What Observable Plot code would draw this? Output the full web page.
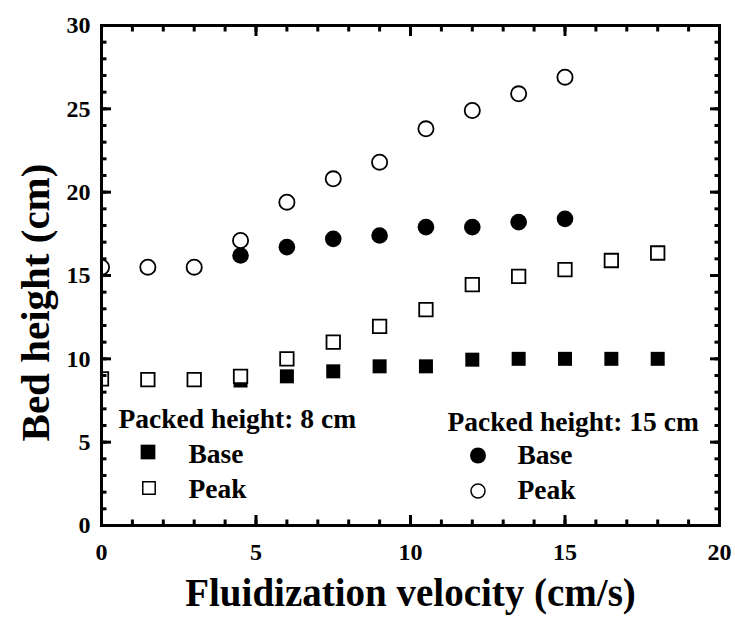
<!DOCTYPE html>
<html>
<head>
<meta charset="utf-8">
<script src="https://cdn.jsdelivr.net/npm/d3@7"></script>
<script src="https://cdn.jsdelivr.net/npm/@observablehq/plot@0.6"></script>
<style>
  html, body { margin: 0; padding: 0; background: #fff; }
</style>
</head>
<body>
<div id="chart"></div>
<script>
// ---- data ----
const velocity15 = [0, 1.5, 3, 4.5, 6, 7.5, 9, 10.5, 12, 13.5, 15];
const peak15 = [15.5, 15.5, 15.5, 17.1, 19.4, 20.8, 21.8, 23.8, 24.9, 25.9, 26.9];
const velocityBase15 = [4.5, 6, 7.5, 9, 10.5, 12, 13.5, 15];
const base15 = [16.2, 16.7, 17.2, 17.4, 17.9, 17.9, 18.2, 18.4];

const velocity8 = [0, 1.5, 3, 4.5, 6, 7.5, 9, 10.5, 12, 13.5, 15, 16.5, 18];
const peak8 = [8.8, 8.75, 8.75, 8.95, 10.0, 11.0, 11.95, 12.95, 14.45, 14.95, 15.35, 15.9, 16.35];
const velocityBase8 = [4.5, 6, 7.5, 9, 10.5, 12, 13.5, 15, 16.5, 18];
const base8 = [8.7, 8.95, 9.25, 9.55, 9.55, 9.95, 10.0, 10.0, 10.0, 10.0];

const xDomain = [0, 20];
const yDomain = [0, 30];
const xMajorTicks = [0, 5, 10, 15, 20];
const yMajorTicks = [0, 5, 10, 15, 20, 25, 30];
const xMinorTicks = [0, 1, 2, 3, 4, 5, 6, 7, 8, 9, 10, 11, 12, 13, 14, 15, 16, 17, 18, 19, 20];
const yMinorTicks = [0, 1, 2, 3, 4, 5, 6, 7, 8, 9, 10, 11, 12, 13, 14, 15, 16, 17, 18, 19, 20, 21, 22, 23, 24, 25, 26, 27, 28, 29, 30];

const xTitle = "Fluidization velocity (cm/s)";
const yTitle = "Bed height (cm)";
const legend8Title = "Packed height: 8 cm";
const legend15Title = "Packed height: 15 cm";
const legendLabels = ["Base", "Peak"];

const toRows = (xs, ys) => xs.map((x, i) => ({x, y: ys[i]}));

// ---- layout ----
const W = 735, H = 624;
const mL = 101, mR = 16, mT = 25, mB = 99;
const serif = "Liberation Serif, Times New Roman, serif";
const tickFont = 24, legendFont = 27.5;
const major = 10, minor = 5.5, tw = 3;

// inward tick marks drawn with the library's own axis marks, shifted inside the frame
const ticksX = (ticks, len) => [
  Plot.axisX(ticks, {anchor: "bottom", tickSize: len, dy: -len, text: null, label: null, stroke: "#000", strokeWidth: tw}),
  Plot.axisX(ticks, {anchor: "top", tickSize: len, dy: len, text: null, label: null, stroke: "#000", strokeWidth: tw}),
];
const ticksY = (ticks, len) => [
  Plot.axisY(ticks, {anchor: "left", tickSize: len, dx: len, text: null, label: null, stroke: "#000", strokeWidth: tw}),
  Plot.axisY(ticks, {anchor: "right", tickSize: len, dx: -len, text: null, label: null, stroke: "#000", strokeWidth: tw}),
];
const legText = (t, dx, dy) => Plot.text([t], {frameAnchor: "bottom-left", dx, dy, textAnchor: "start", lineAnchor: "bottom", fontSize: legendFont, fontWeight: "bold", fontFamily: serif, fill: "#000", text: d => d});

const chart = Plot.plot({
  width: W,
  height: H,
  marginLeft: mL,
  marginRight: mR,
  marginTop: mT,
  marginBottom: mB,
  x: {domain: xDomain},
  y: {domain: yDomain},
  marks: [
    // data
    Plot.dot(toRows(velocityBase8, base8), {x: "x", y: "y", symbol: "square", r: 7.9, fill: "#000", stroke: "none", clip: true}),
    Plot.dot(toRows(velocityBase15, base15), {x: "x", y: "y", symbol: "circle", r: 8.3, fill: "#000", stroke: "none", clip: true}),
    Plot.dot(toRows(velocity8, peak8), {x: "x", y: "y", symbol: "square", r: 7.6, fill: "#fff", stroke: "#000", strokeWidth: 1.8, clip: true}),
    Plot.dot(toRows(velocity15, peak15), {x: "x", y: "y", symbol: "circle", r: 7.6, fill: "#fff", stroke: "#000", strokeWidth: 1.8, clip: true}),

    // inward ticks on all four sides
    ...ticksX(xMinorTicks, minor),
    ...ticksX(xMajorTicks, major),
    ...ticksY(yMinorTicks, minor),
    ...ticksY(yMajorTicks, major),

    // tick labels
    Plot.axisX(xMajorTicks, {anchor: "bottom", tickSize: 0, tickPadding: 17, fontSize: tickFont, fontWeight: "bold", fontFamily: serif, fill: "#000", label: null}),
    Plot.axisY(yMajorTicks, {anchor: "left", tickSize: 0, tickPadding: 11, fontSize: tickFont, fontWeight: "bold", fontFamily: serif, fill: "#000", label: null}),

    Plot.frame({stroke: "#000", strokeWidth: 3}),

    // axis titles
    Plot.text([xTitle], {frameAnchor: "bottom", dy: 80, textAnchor: "middle", lineAnchor: "bottom", fontSize: 39, fontWeight: "bold", fontFamily: serif, fill: "#000", text: d => d}),
    Plot.text([yTitle], {frameAnchor: "left", dx: -66, dy: 27, rotate: -90, textAnchor: "middle", lineAnchor: "middle", fontSize: 41, fontWeight: "bold", fontFamily: serif, fill: "#000", text: d => d}),

    // legend: packed 8 cm
    legText(legend8Title, 17, -98),
    Plot.dot([0], {frameAnchor: "bottom-left", dx: 46.5, dy: -73.5, symbol: "square", r: 8.3, fill: "#000"}),
    legText(legendLabels[0], 87, -63),
    Plot.dot([0], {frameAnchor: "bottom-left", dx: 47.5, dy: -37.5, symbol: "square", r: 7, fill: "#fff", stroke: "#000", strokeWidth: 1.5}),
    legText(legendLabels[1], 87, -28),

    // legend: packed 15 cm
    legText(legend15Title, 346, -95),
    Plot.dot([0], {frameAnchor: "bottom-left", dx: 376.5, dy: -70, symbol: "circle", r: 8, fill: "#000"}),
    legText(legendLabels[0], 416, -62),
    Plot.dot([0], {frameAnchor: "bottom-left", dx: 376.5, dy: -34.5, symbol: "circle", r: 7, fill: "#fff", stroke: "#000", strokeWidth: 1.5}),
    legText(legendLabels[1], 416, -27),
  ]
});
document.getElementById("chart").appendChild(chart);
</script>
</body>
</html>
